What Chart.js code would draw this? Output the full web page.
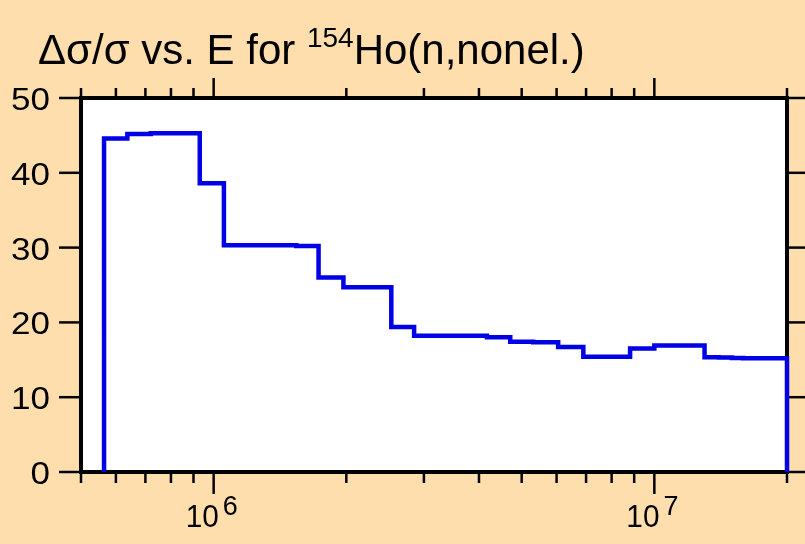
<!DOCTYPE html>
<html>
<head>
<meta charset="utf-8">
<script src="https://cdn.jsdelivr.net/npm/chart.js@4/dist/chart.umd.min.js"></script>
<style>
  html, body { margin: 0; padding: 0; background: rgb(254,222,172); }
  #wrap { width: 805px; height: 544px; }
</style>
</head>
<body>
<div id="wrap"><canvas id="c" width="805" height="544"></canvas></div>
<script>
// ---- data ----
const titleMain = "Δσ/σ vs. E for ";
const titleSup = "154";
const titleEnd = "Ho(n,nonel.)";

// energy group boundaries (eV)
const energyEdges = [5.64e5, 6.37e5, 7.2e5, 8.2e5, 9.3e5, 1.055e6, 1.54e6, 1.73e6, 1.97e6,
  2.53e6, 2.85e6, 3.21e6, 3.69e6, 4.17e6, 4.71e6, 5.31e6, 6.05e6, 6.9e6, 8.81e6, 1.0e7,
  1.19e7, 1.30e7, 1.40e7, 1.50e7, 1.59e7, 2.0e7];
// relative uncertainty (%) in each group
const relErr = [44.6, 45.2, 45.3, 45.3, 38.6, 30.3, 30.2, 26.0, 24.7,
  19.4, 18.2, 18.2, 18.2, 18.0, 17.4, 17.35, 16.7, 15.4, 16.5,
  16.9, 16.9, 15.35, 15.3, 15.25, 15.2];

const xMin = 5e5, xMax = 2e7;
const yMin = 0, yMax = 50, yStep = 10;
const xTickValues = [5e5, 6e5, 7e5, 8e5, 9e5, 1e6, 2e6, 3e6, 4e6, 5e6, 6e6, 7e6, 8e6, 9e6, 1e7, 2e7];
const xMajorTicks = [1e6, 1e7];

// ---- build step points ----
const points = [{ x: energyEdges[0], y: 0 }];
for (let i = 0; i < relErr.length; i++) points.push({ x: energyEdges[i], y: relErr[i] });
points.push({ x: energyEdges[energyEdges.length - 1], y: relErr[relErr.length - 1] });
points.push({ x: energyEdges[energyEdges.length - 1], y: 0 });

const bgColor = 'rgb(254,222,172)';
const FONT = "'Liberation Sans', Arial, Helvetica, sans-serif";

function drawText(ctx, text, x, y, size, kx, align) {
  ctx.save();
  ctx.font = size + 'px ' + FONT;
  ctx.textAlign = align || 'left';
  ctx.textBaseline = 'alphabetic';
  ctx.translate(x, y);
  ctx.scale(kx, 1);
  ctx.fillText(text, 0, 0);
  const w = ctx.measureText(text).width * kx;
  ctx.restore();
  return w;
}

const framePlugin = {
  id: 'frame',
  beforeDraw(chart) {
    const { ctx, width, height, chartArea: a } = chart;
    ctx.save();
    ctx.fillStyle = bgColor;
    ctx.fillRect(0, 0, width, height);
    ctx.fillStyle = '#ffffff';
    ctx.fillRect(a.left, a.top, a.right - a.left, a.bottom - a.top);
    ctx.restore();
  },
  beforeDatasetsDraw(chart) {
    const { ctx, chartArea: a, scales } = chart;
    const seg = (x1, y1, x2, y2) => { ctx.beginPath(); ctx.moveTo(x1, y1); ctx.lineTo(x2, y2); ctx.stroke(); };
    ctx.save();
    ctx.strokeStyle = '#000';
    ctx.lineWidth = 2.5;
    scales.x.ticks.forEach(t => {
      const px = scales.x.getPixelForValue(t.value);
      seg(px, a.bottom, px, a.bottom + (t.major ? 22 : 11));
      seg(px, a.top, px, a.top - (t.major ? 20 : 10));
    });
    scales.y.ticks.forEach(t => {
      const py = scales.y.getPixelForValue(t.value);
      seg(a.left - 22, py, a.left, py);
      seg(a.right, py, a.right + 20, py);
    });
    ctx.lineWidth = 4;
    ctx.strokeRect(a.left, a.top, a.right - a.left, a.bottom - a.top);
    ctx.restore();
  },
  afterDraw(chart) {
    const { ctx, chartArea: a, scales } = chart;
    ctx.save();
    ctx.fillStyle = '#000';
    // y tick labels
    scales.y.ticks.forEach(t => {
      const py = scales.y.getPixelForValue(t.value);
      drawText(ctx, String(t.value), a.left - 31, py + 12, 31, 1.13, 'right');
    });
    // x tick labels 10^n
    scales.x.ticks.filter(t => t.major).forEach(t => {
      const px = scales.x.getPixelForValue(t.value);
      const exp = String(Math.round(Math.log10(t.value)));
      const x0 = px - 28;
      const w10 = drawText(ctx, '10', x0, a.bottom + 55, 31, 0.96, 'left');
      drawText(ctx, exp, x0 + w10 + 4, a.bottom + 43, 27, 1, 'left');
    });
    // title
    let x = 38;
    x += drawText(ctx, titleMain, x, 64, 42, 1, 'left');
    x += drawText(ctx, titleSup, x, 47, 28, 1, 'left');
    drawText(ctx, titleEnd, x, 64, 42, 1, 'left');
    ctx.restore();
  }
};

new Chart(document.getElementById('c'), {
  type: 'line',
  data: {
    datasets: [{
      data: points,
      stepped: true,
      borderColor: 'rgb(0,0,230)',
      borderWidth: 4.5,
      pointRadius: 0,
      fill: false,
      clip: false
    }]
  },
  options: {
    responsive: false,
    animation: false,
    devicePixelRatio: 1,
    layout: { padding: { top: 98, right: 18, bottom: 0, left: 0 } },
    plugins: { legend: { display: false }, title: { display: false }, tooltip: { enabled: false } },
    scales: {
      x: {
        type: 'logarithmic',
        min: xMin, max: xMax,
        grid: { display: false, drawTicks: false },
        border: { display: false },
        ticks: { display: false },
        afterBuildTicks: (scale) => {
          scale.ticks = xTickValues.map(v => ({ value: v, major: xMajorTicks.includes(v) }));
        },
        afterFit: (scale) => { scale.height = 72; }
      },
      y: {
        type: 'linear',
        min: yMin, max: yMax,
        grid: { display: false, drawTicks: false },
        border: { display: false },
        ticks: { display: false, stepSize: yStep },
        afterFit: (scale) => { scale.width = 81; }
      }
    }
  },
  plugins: [framePlugin]
});
</script>
</body>
</html>
